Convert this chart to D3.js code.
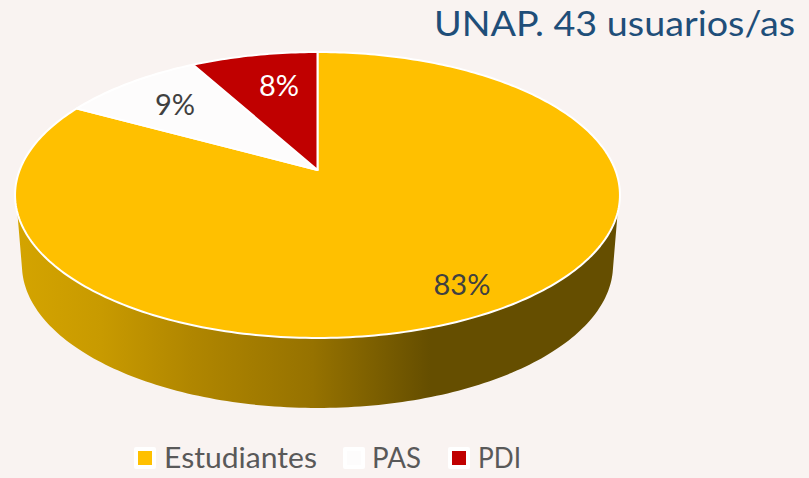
<!DOCTYPE html>
<html>
<head>
<meta charset="utf-8">
<script src="https://cdn.jsdelivr.net/npm/d3@7"></script>
<style>html,body{margin:0;padding:0;background:#f9f3f1;overflow:hidden}svg{display:block}text{font-family:Lato,"Open Sans",sans-serif}</style>
</head>
<body>
<div id="chart"></div>
<script>
const categories = ["Estudiantes", "PAS", "PDI"];
const values = [83, 9, 8];
const colors = ["#ffc000", "#fdfcfc", "#c00000"];
const labelColors = ["#404040", "#404040", "#ffffff"];
const titleText = "UNAP. 43 usuarios/as";

const W = 809, H = 478;
const svg = d3.select("#chart").append("svg").attr("width", W).attr("height", H);
svg.append("rect").attr("width", W).attr("height", H).attr("fill", "#f9f3f1");

// Perspective projection of the pie disc
const cx = 317.5, apexY = 170, persp = -0.1748, kY = 108.9;
function project(theta, r, scaleX, dy) {
  const X = r * Math.sin(theta), Y = -r * Math.cos(theta);
  const d = 1 + persp * Y;
  return [cx + scaleX * X / d, (kY * Y + apexY) / d + dy];
}
const TOP = 297.8, BOTTOM = 291, DEPTH = 70;

const defs = svg.append("defs");
const grad = defs.append("linearGradient").attr("id", "wall")
  .attr("gradientUnits", "userSpaceOnUse").attr("x1", 17).attr("x2", 620).attr("y1", 0).attr("y2", 0);
[[0, "#d4a400"], [0.14, "#c89a00"], [0.29, "#b08600"], [0.49, "#967200"], [0.685, "#654e00"], [1, "#654e00"]]
  .forEach(s => grad.append("stop").attr("offset", s[0]).attr("stop-color", s[1]));

const line = d3.line();
const rad = d => d * Math.PI / 180;

// Side wall
const wallTop = d3.range(107, 253.01, 1).map(d => project(rad(d), 1, TOP, 0));
const wallBottom = d3.range(103, 257.01, 1).map(d => project(rad(d), 1, BOTTOM, DEPTH)).reverse();
svg.append("path").attr("d", line(wallTop.concat(wallBottom)) + "Z").attr("fill", "url(#wall)");

// Top face slices
const arcs = d3.pie().sort(null).value(d => d)(values);
const slices = svg.append("g");
arcs.forEach((a, i) => {
  const n = Math.max(2, Math.ceil((a.endAngle - a.startAngle) / rad(1)));
  const pts = d3.range(n + 1).map(j => project(a.startAngle + (a.endAngle - a.startAngle) * j / n, 1, TOP, 0));
  const apex = project(0, 0, TOP, 0);
  slices.append("path").attr("d", line([apex].concat(pts)) + "Z")
    .attr("fill", colors[i]).attr("stroke", "#ffffff").attr("stroke-width", 2).attr("stroke-linejoin", "round");
});

// Data labels
const labelPos = [[462, 285], [175, 105], [279, 86]];
svg.append("g").selectAll("text").data(values).join("text")
  .attr("x", (d, i) => labelPos[i][0]).attr("y", (d, i) => labelPos[i][1])
  .attr("dy", "0.36em").attr("text-anchor", "middle").attr("font-size", 29)
  .attr("fill", (d, i) => labelColors[i]).text(d => d + "%");

// Title
svg.append("text").attr("x", 434).attr("y", 36).attr("font-size", 35)
  .attr("textLength", 361).attr("lengthAdjust", "spacingAndGlyphs")
  .attr("fill", "#1f4e79").text(titleText);

// Legend
const swatchX = [134, 343, 448], textX = [164, 372, 478], textW = [153, 49, 43];
const legend = svg.append("g");
categories.forEach((c, i) => {
  legend.append("rect").attr("x", swatchX[i]).attr("y", 447).attr("width", 22).attr("height", 22).attr("rx", 2).attr("fill", "#ffffff");
  legend.append("rect").attr("x", swatchX[i] + 4).attr("y", 451).attr("width", 14).attr("height", 14).attr("fill", colors[i]);
  legend.append("text").attr("x", textX[i]).attr("y", 468).attr("font-size", 28)
    .attr("textLength", textW[i]).attr("lengthAdjust", "spacingAndGlyphs")
    .attr("fill", "#595959").text(c);
});
</script>
</body>
</html>
